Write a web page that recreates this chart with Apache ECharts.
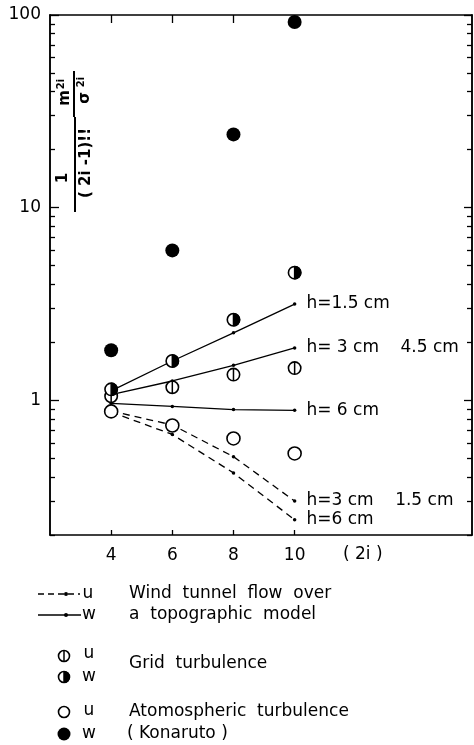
<!DOCTYPE html>
<html>
<head>
<meta charset="utf-8">
<script src="https://cdn.jsdelivr.net/npm/echarts@6/dist/echarts.min.js"></script>
<style>html,body{margin:0;padding:0;background:#fff}#c{width:474px;height:745px}</style>
</head>
<body>
<div id="c"></div>
<script>
// ---- data ----
const xTicks = [4, 6, 8, 10];
const yMajor = [1, 10, 100];
const yMinor = [0.2,0.3,0.4,0.5,0.6,0.7,0.8,0.9,2,3,4,5,6,7,8,9,20,30,40,50,60,70,80,90];
const atmosW = [1.82, 6.0, 24.0, 92];
const atmosU = [0.876, 0.74, 0.634, 0.53];
const gridW = [1.14, 1.6, 2.62, 4.6];
const gridU = [1.05, 1.17, 1.36, 1.47];
const windW15 = [1.12, 1.6, 2.24, 3.16];
const windW3 = [1.07, 1.26, 1.52, 1.87];
const windW6 = [0.965, 0.93, 0.895, 0.887];
const windU3 = [0.88, 0.745, 0.51, 0.30];
const windU6 = [0.87, 0.665, 0.42, 0.24];
const labW15 = 'h=1.5 cm';
const labW3 = 'h= 3 cm    4.5 cm';
const labW6 = 'h= 6 cm';
const labU3 = 'h=3 cm    1.5 cm';
const labU6 = 'h=6 cm';

const FONT = 'DejaVu Sans';
const pairs = (ys) => xTicks.map((x, i) => [x, ys[i]]);
const lineData = (ys, text) => xTicks.map((x, i) => i === xTicks.length - 1
  ? { value: [x, ys[i]], label: { show: true, formatter: text } }
  : [x, ys[i]]);

function lineSeries(ys, text, dashed) {
  return {
    type: 'line', data: lineData(ys, text), xAxisIndex: 0, yAxisIndex: 0,
    symbol: 'circle', symbolSize: 3.5, z: 2,
    itemStyle: { color: '#000', opacity: 1 },
    lineStyle: { color: '#000', width: 1.3, type: dashed ? [7, 5] : 'solid' },
    label: { show: false, position: 'right', distance: 10, color: '#000',
      fontFamily: FONT, fontSize: 17 },
    animation: false, silent: true
  };
}

function gridMarker(half) {
  return function (params, api) {
    const p = api.coord([api.value(0), api.value(1)]);
    const r = 6.2;
    const ch = [
      { type: 'circle', shape: { cx: p[0], cy: p[1], r: r }, style: { fill: '#fff', stroke: '#000', lineWidth: 1.6 } }
    ];
    if (half) {
      ch.push({ type: 'sector', shape: { cx: p[0], cy: p[1], r0: 0, r: r + 0.6, startAngle: -Math.PI / 2, endAngle: Math.PI / 2, clockwise: true }, style: { fill: '#000' } });
    }
    ch.push({ type: 'line', shape: { x1: p[0], y1: p[1] - r, x2: p[0], y2: p[1] + r }, style: { stroke: '#000', lineWidth: 1.5 } });
    return { type: 'group', children: ch };
  };
}

function yAx(pos, ticks, len, labels) {
  return {
    type: 'log', logBase: 10, min: 0.2, max: 100, position: pos,
    axisLine: { show: true, lineStyle: { color: '#000', width: 1.5 } },
    axisTick: { show: true, inside: true, length: len, customValues: ticks, lineStyle: { color: '#000', width: 1.3 } },
    axisLabel: labels ? { show: true, customValues: yMajor, color: '#000', fontFamily: FONT, fontSize: 17, margin: 9 } : { show: false },
    splitLine: { show: false }, minorTick: { show: false }
  };
}
function xAx(pos, len, labels) {
  return {
    type: 'value', min: 2, max: 15.8, position: pos,
    axisLine: { show: true, onZero: false, lineStyle: { color: '#000', width: 1.5 } },
    axisTick: { show: true, inside: true, length: len, customValues: xTicks, lineStyle: { color: '#000', width: 1.3 } },
    axisLabel: labels ? { show: true, customValues: xTicks, color: '#000', fontFamily: FONT, fontSize: 17, margin: 12 } : { show: false },
    splitLine: { show: false }
  };
}

// legend / annotation graphics
const g = [];
function txt(x, y, s, size, align) {
  g.push({ type: 'text', x: x, y: y, style: { text: s, fill: '#000', font: (size || 17) + 'px "' + FONT + '"', align: align || 'left', verticalAlign: 'middle' } });
}
txt(343, 555, '( 2i )');
// legend rows
g.push({ type: 'line', shape: { x1: 38, y1: 594, x2: 80, y2: 594 }, style: { stroke: '#000', lineWidth: 1.3, lineDash: [6, 4] } });
g.push({ type: 'circle', shape: { cx: 66, cy: 594, r: 2 }, style: { fill: '#000' } });
txt(88, 594, 'u', 17, 'center');
g.push({ type: 'line', shape: { x1: 38, y1: 615, x2: 81, y2: 615 }, style: { stroke: '#000', lineWidth: 1.3 } });
g.push({ type: 'circle', shape: { cx: 66, cy: 615, r: 2 }, style: { fill: '#000' } });
txt(89, 615, 'w', 17, 'center');
txt(129, 594, 'Wind  tunnel  flow  over');
txt(129, 615, 'a  topographic  model');
function legGrid(cx, cy, half) {
  const r = 5.5;
  g.push({ type: 'circle', shape: { cx: cx, cy: cy, r: r }, style: { fill: '#fff', stroke: '#000', lineWidth: 1.6 } });
  if (half) g.push({ type: 'sector', shape: { cx: cx, cy: cy, r0: 0, r: r + 0.6, startAngle: -Math.PI / 2, endAngle: Math.PI / 2, clockwise: true }, style: { fill: '#000' } });
  g.push({ type: 'line', shape: { x1: cx, y1: cy - r, x2: cx, y2: cy + r }, style: { stroke: '#000', lineWidth: 1.5 } });
}
legGrid(64, 656, false); txt(89, 654, 'u', 17, 'center');
legGrid(64, 677, true); txt(89, 677, 'w', 17, 'center');
txt(129, 664, 'Grid  turbulence');
g.push({ type: 'circle', shape: { cx: 64, cy: 712, r: 5.5 }, style: { fill: '#fff', stroke: '#000', lineWidth: 1.6 } });
txt(89, 711, 'u', 17, 'center');
g.push({ type: 'circle', shape: { cx: 64, cy: 734, r: 6.5 }, style: { fill: '#000' } });
txt(89, 734, 'w', 17, 'center');
txt(129, 712, 'Atomospheric  turbulence');
txt(127, 734, '( Konaruto )');

// rotated y-axis formula
const fb = 'bold 15px "' + FONT + '"';
const fs = 'bold 10px "' + FONT + '"';
function rt(x, y, s, f) { return { type: 'text', x: x, y: y, style: { text: s, fill: '#000', font: f, align: 'center', verticalAlign: 'middle' } }; }
g.push({
  type: 'group', x: 75, y: 212, rotation: Math.PI / 2,
  children: [
    { type: 'line', shape: { x1: 0, y1: 0, x2: 95, y2: 0 }, style: { stroke: '#000', lineWidth: 2 } },
    rt(34, -12, '1', fb),
    rt(49, 11, '( 2i -1)!!', fb),
    { type: 'line', shape: { x1: 95, y1: -1, x2: 141, y2: -1 }, style: { stroke: '#000', lineWidth: 2 } },
    rt(114, -10, 'm', fb),
    rt(128, -14, '2i', fs),
    rt(114, 10, 'σ', fb),
    rt(130, 6, '2i', fs)
  ]
});

const chart = echarts.init(document.getElementById('c'), null, { renderer: 'canvas' });
chart.setOption({
  backgroundColor: '#fff',
  animation: false,
  grid: { left: 50, right: 2, top: 15, bottom: 210, containLabel: false },
  xAxis: [xAx('bottom', 5, true), xAx('top', 8, false)],
  yAxis: [yAx('left', yMajor, 9, true), yAx('left', yMinor, 5, false), yAx('right', yMajor, 8, false), yAx('right', yMinor, 5, false)],
  series: [
    lineSeries(windW15, labW15, false),
    lineSeries(windW3, labW3, false),
    lineSeries(windW6, labW6, false),
    lineSeries(windU3, labU3, true),
    lineSeries(windU6, labU6, true),
    { type: 'scatter', data: pairs(atmosW), symbol: 'circle', symbolSize: 14, itemStyle: { color: '#000', opacity: 1 }, z: 5, silent: true },
    { type: 'scatter', data: pairs(atmosU), symbol: 'circle', symbolSize: 13, itemStyle: { color: '#fff', borderColor: '#000', borderWidth: 1.6, opacity: 1 }, z: 5, silent: true },
    { type: 'custom', data: pairs(gridU), renderItem: gridMarker(false), encode: { x: 0, y: 1 }, z: 5, silent: true },
    { type: 'custom', data: pairs(gridW), renderItem: gridMarker(true), encode: { x: 0, y: 1 }, z: 5, silent: true }
  ],
  graphic: g
});
</script>
</body>
</html>
